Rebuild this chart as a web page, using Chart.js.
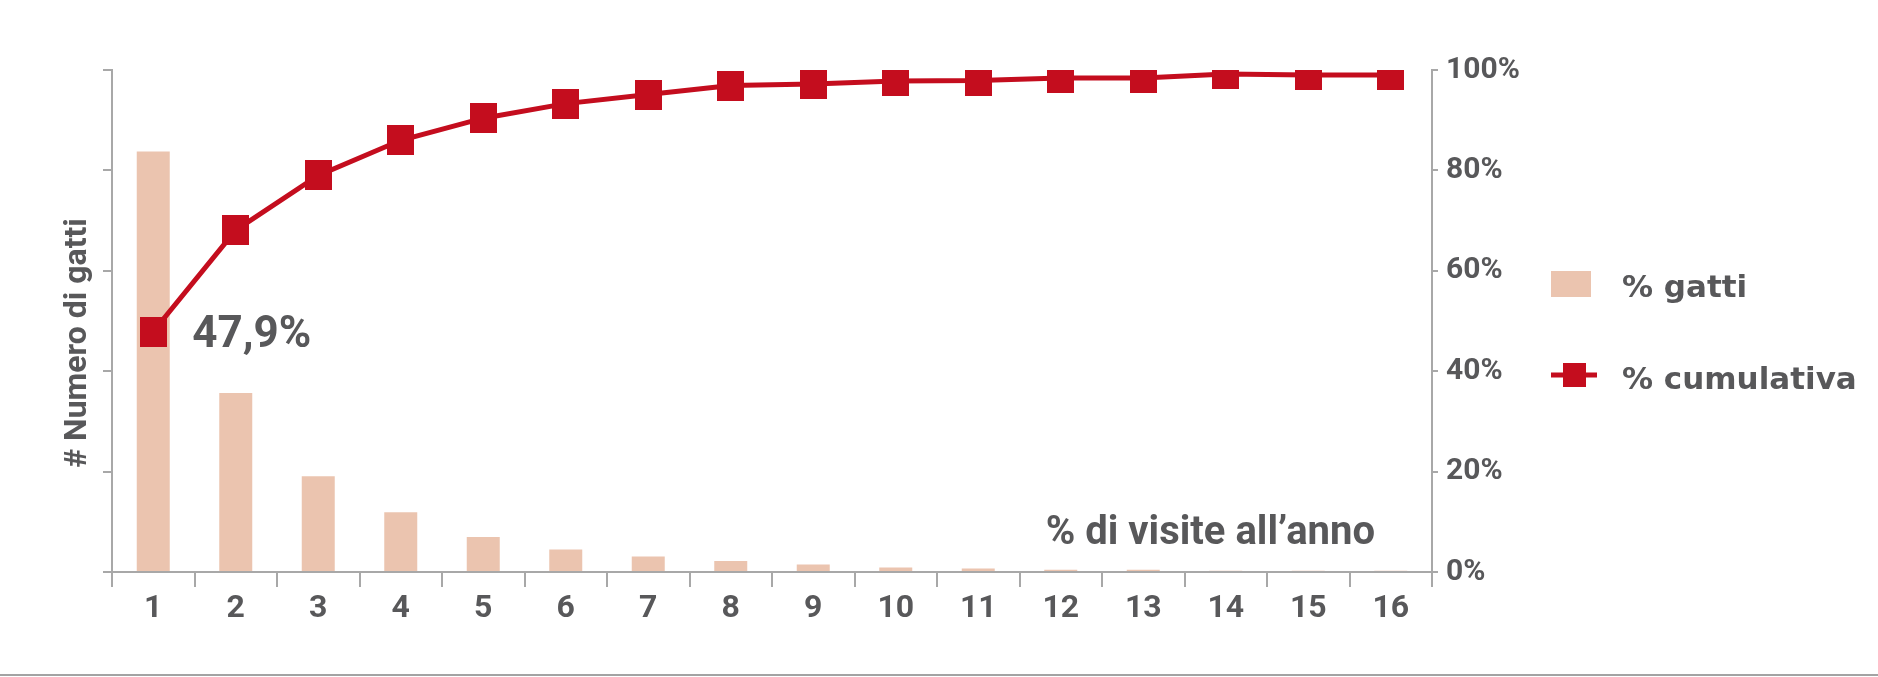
<!DOCTYPE html>
<html lang="it">
<head>
<meta charset="utf-8">
<title>% gatti / % cumulativa</title>
<script src="https://cdn.jsdelivr.net/npm/chart.js@4.4.1/dist/chart.umd.min.js"></script>
<style>
  html, body { margin: 0; padding: 0; background: #fff; }
  #wrap { position: relative; width: 1878px; height: 677px; }
  #linea-fondo { position: absolute; left: 0; top: 674px; width: 1878px; height: 2px; background: #a3a3a3; }
</style>
</head>
<body>
<div id="wrap">
  <canvas id="grafico"></canvas>
  <div id="linea-fondo"></div>
</div>
<script>
const categorie = ['1', '2', '3', '4', '5', '6', '7', '8', '9', '10', '11', '12', '13', '14', '15', '16'];
const gatti = [47.9, 20.4, 10.9, 6.8, 4.0, 2.55, 1.77, 1.24, 0.86, 0.52, 0.40, 0.25, 0.25, 0.14, 0.14, 0.14];
const cumulativa = [47.9, 68.1, 79.0, 86.0, 90.4, 93.3, 95.1, 96.9, 97.2, 97.8, 97.9, 98.4, 98.4, 99.2, 99.0, 99.0];
const tickDestra = [0, 20, 40, 60, 80, 100];
const maxSinistra = 57.2;

const GRIGIO_TESTO = '#58585a';
const GRIGIO_ASSE = '#a8a8a8';
const ROSA = '#ebc4af';
const ROSSO = '#c40d1e';

function quadrato(w, h, colore) {
  const c = document.createElement('canvas');
  c.width = w;
  c.height = h;
  const cx = c.getContext('2d');
  cx.fillStyle = colore;
  cx.fillRect(0, 0, w, h);
  return c;
}

const extras = {
  id: 'extras',
  afterDatasetsDraw(chart) {
    const { ctx, chartArea } = chart;
    const p = chart.getDatasetMeta(0).data[0];
    ctx.save();
    ctx.fillStyle = GRIGIO_TESTO;

    // etichetta primo punto
    ctx.font = "bold 44px Roboto, sans-serif";
    ctx.textAlign = 'left';
    ctx.textBaseline = 'alphabetic';
    ctx.fillText(cumulativa[0].toFixed(1).replace('.', ',') + '%', p.x + 39, p.y + 15);

    // titolo asse x dentro il grafico
    ctx.font = "bold 40px Roboto, sans-serif";
    ctx.textAlign = 'right';
    ctx.fillText('% di visite all\u2019anno', chartArea.right - 57, chartArea.bottom - 28);

    // titolo asse y
    ctx.save();
    ctx.translate(chartArea.left - 34, chartArea.top + 273);
    ctx.rotate(-Math.PI / 2);
    ctx.font = "bold 32px Roboto, sans-serif";
    ctx.textAlign = 'center';
    ctx.textBaseline = 'middle';
    ctx.fillText('# Numero di gatti', 0, 0);
    ctx.restore();

    // legenda
    const lx = chartArea.right + 119;
    const ds = chart.data.datasets;
    ctx.fillStyle = ds[1].backgroundColor;
    ctx.fillRect(lx, 271, 40, 26);

    ctx.strokeStyle = ROSSO;
    ctx.lineWidth = 5;
    ctx.beginPath();
    ctx.moveTo(lx, 375);
    ctx.lineTo(lx + 46, 375);
    ctx.stroke();
    ctx.fillStyle = ROSSO;
    ctx.fillRect(lx + 12, 363, 23, 24);

    ctx.fillStyle = GRIGIO_TESTO;
    ctx.font = "bold 31px 'DejaVu Sans', sans-serif";
    ctx.textAlign = 'left';
    ctx.textBaseline = 'alphabetic';
    ctx.fillText(ds[1].label, lx + 71, 297);
    ctx.fillText(ds[0].label, lx + 71, 389);
    ctx.restore();
  }
};

new Chart(document.getElementById('grafico'), {
  data: {
    labels: categorie,
    datasets: [
      {
        type: 'line',
        label: '% cumulativa',
        data: cumulativa,
        yAxisID: 'y1',
        order: 0,
        borderColor: ROSSO,
        borderWidth: 5,
        tension: 0,
        pointStyle: quadrato(27, 30, ROSSO),
        pointRadius: 15,
        pointHoverRadius: 15,
        pointBackgroundColor: ROSSO,
        pointBorderWidth: 0
      },
      {
        type: 'bar',
        label: '% gatti',
        data: gatti,
        yAxisID: 'y',
        order: 1,
        backgroundColor: ROSA,
        barPercentage: 0.4,
        categoryPercentage: 1.0
      }
    ]
  },
  options: {
    responsive: true,
    maintainAspectRatio: false,
    animation: false,
    layout: { padding: { top: 70, right: 336, left: 0, bottom: 0 } },
    plugins: {
      legend: { display: false },
      tooltip: { enabled: false }
    },
    scales: {
      x: {
        offset: true,
        grid: { offset: true, drawOnChartArea: false, drawTicks: true, tickLength: 15, color: GRIGIO_ASSE, lineWidth: 2 },
        border: { display: true, color: GRIGIO_ASSE, width: 2 },
        ticks: { color: GRIGIO_TESTO, font: { family: 'Roboto', weight: 'bold', size: 32 }, padding: 3, maxRotation: 0, autoSkip: false },
        afterFit: s => { s.height = 105; }
      },
      y: {
        position: 'left',
        min: 0,
        max: maxSinistra,
        ticks: { display: false, count: 6 },
        grid: { drawOnChartArea: false, drawTicks: true, tickLength: 9, color: GRIGIO_ASSE, lineWidth: 2 },
        border: { display: true, color: GRIGIO_ASSE, width: 2 },
        afterFit: s => { s.width = 112; }
      },
      y1: {
        position: 'right',
        min: 0,
        max: 100,
        afterBuildTicks: s => { s.ticks = tickDestra.map(v => ({ value: v })); },
        ticks: { color: GRIGIO_TESTO, font: { family: 'Roboto', weight: 'bold', size: 30 }, padding: 8, callback: v => v + '%' },
        grid: { drawOnChartArea: false, drawTicks: true, tickLength: 6, color: GRIGIO_ASSE, lineWidth: 2 },
        border: { display: true, color: GRIGIO_ASSE, width: 2 },
        afterFit: s => { s.width = 110; }
      }
    }
  },
  plugins: [extras]
});
</script>
</body>
</html>
